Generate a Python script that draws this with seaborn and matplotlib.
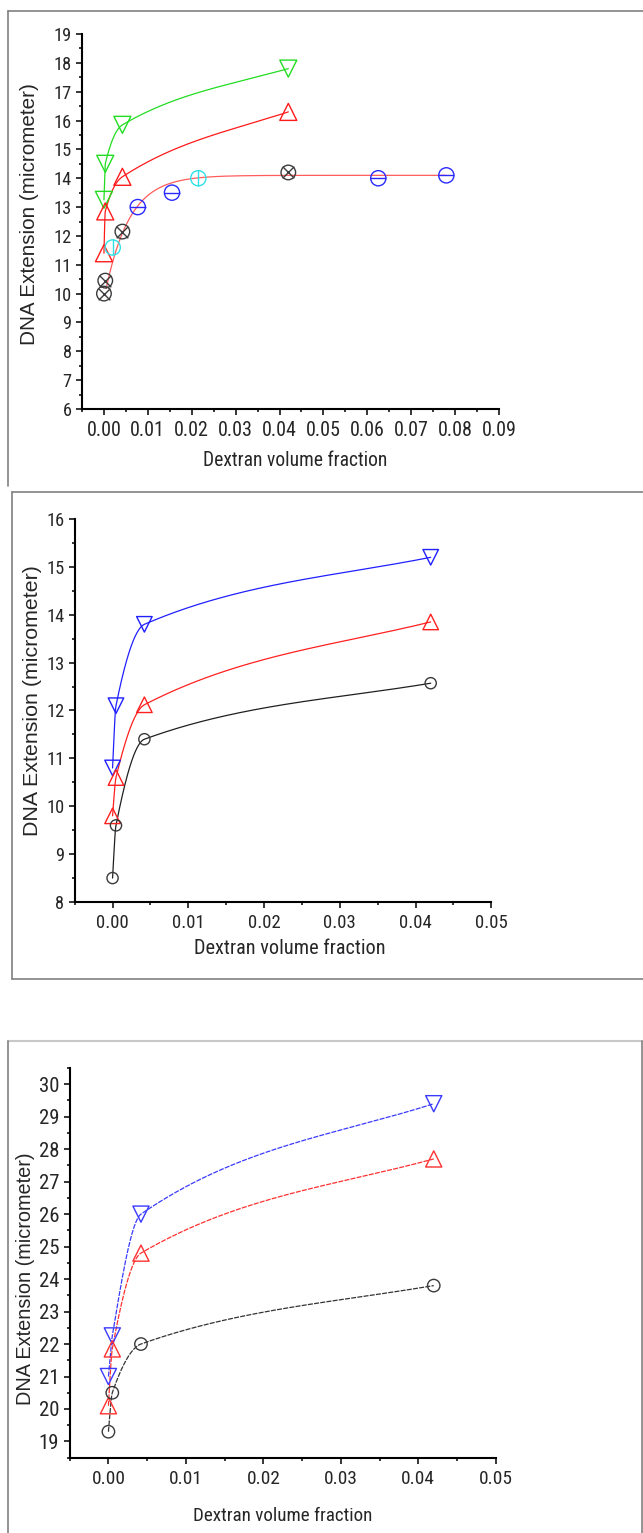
import numpy as np
import matplotlib
matplotlib.use("Agg")
import matplotlib.pyplot as plt
from matplotlib import font_manager as fm
from matplotlib.lines import Line2D
from matplotlib.ticker import MultipleLocator, FormatStrFormatter
import seaborn as sns

# ---- data ----
X4 = [0.0, 0.0003, 0.0042, 0.042]

# panel 1
p1_green_y = [13.25, 14.5, 15.85, 17.8]
p1_red_y = [11.4, 12.85, 14.05, 16.3]
p1_cross_x = [0.0, 0.0003, 0.0042, 0.042]
p1_cross_y = [10.0, 10.45, 12.15, 14.2]
p1_cyan_x = [0.002, 0.0215]
p1_cyan_y = [11.6, 14.0]
p1_blue_x = [0.0077, 0.0155, 0.0625, 0.078]
p1_blue_y = [13.0, 13.5, 14.0, 14.1]
# saturating fit drawn through the circle markers
fit_plateau, fit_amp, fit_tau = 14.1, 4.3, 0.0055
fit_xmin, fit_xmax = 0.0005, 0.078

# panel 2
X4b = [0.0, 0.00045, 0.0042, 0.042]
p2_blue_y = [10.8, 12.1, 13.8, 15.2]
p2_red_y = [9.8, 10.6, 12.12, 13.85]
p2_black_y = [8.5, 9.6, 11.4, 12.57]

# panel 3
X4c = [0.0, 0.0005, 0.0042, 0.042]
p3_blue_y = [21.0, 22.25, 26.0, 29.4]
p3_red_y = [20.1, 21.85, 24.8, 27.7]
p3_black_y = [19.3, 20.5, 22.0, 23.8]

XLABEL = "Dextran volume fraction"
YLABEL = "DNA Extension (micrometer)"

W, H = 643, 1533
FONT = ["Liberation Sans", "DejaVu Sans"]

sns.set_style("ticks")
plt.rcParams["font.family"] = FONT

# the original uses a squeezed Arial; take a narrow face if one is installed
_names = {(f.name, f.stretch) for f in fm.fontManager.ttflist}
NARROW = {"family": FONT, "fontstretch": "normal"}
for fam in ["Liberation Sans Narrow", "Arial Narrow", "Roboto Condensed",
            "Open Sans Condensed"]:
    if any(n == fam for n, _ in _names):
        NARROW = {"family": [fam] + FONT, "fontstretch": "normal"}
        break
else:
    for fam in ["Liberation Sans", "Noto Sans", "DejaVu Sans", "Open Sans", "Roboto"]:
        if any(n == fam and s in ("condensed", "semi-condensed", 75, 87) for n, s in _names):
            NARROW = {"family": [fam], "fontstretch": "condensed"}
            break


def spline(x, y, n=300):
    # monotone cubic hermite through the markers (Origin-style spline connect)
    x = np.asarray(x, float)
    y = np.asarray(y, float)
    h = np.diff(x)
    d = np.diff(y) / h
    m = np.zeros_like(y)
    for k in range(1, len(x) - 1):
        if d[k - 1] * d[k] > 0:
            m[k] = 2.0 / (1.0 / d[k - 1] + 1.0 / d[k])
    m[0] = ((2 * h[0] + h[1]) * d[0] - h[0] * d[1]) / (h[0] + h[1])
    if np.sign(m[0]) != np.sign(d[0]):
        m[0] = 0
    m[-1] = 0.85 * d[-1]
    xs, ys = [], []
    for k in range(len(h)):
        t = np.linspace(0, 1, n)
        h00 = 2 * t**3 - 3 * t**2 + 1
        h10 = t**3 - 2 * t**2 + t
        h01 = -2 * t**3 + 3 * t**2
        h11 = t**3 - t**2
        xs.append(x[k] + t * h[k])
        ys.append(h00 * y[k] + h10 * h[k] * m[k] + h01 * y[k + 1] + h11 * h[k] * m[k + 1])
    return np.concatenate(xs), np.concatenate(ys)


fig = plt.figure(figsize=(W / 100, H / 100), dpi=100)
fig.patch.set_facecolor("white")
renderer = fig.canvas.get_renderer()


def fit_size(text, target_px, props, base=12.0):
    # font size that gives the text the width measured on the reference
    t = fig.text(0, 0, text, fontsize=base, **props)
    w = t.get_window_extent(renderer=renderer).width
    t.remove()
    return base * target_px / w


def add_axes(l, t, r, b):
    return fig.add_axes([l / W, 1 - b / H, (r - l) / W, (b - t) / H])


def curve(ax, x, y, color, lw=0.9, dashes=None):
    xs, ys = spline(x, y)
    sns.lineplot(x=xs, y=ys, ax=ax, color=color, lw=lw, sort=False,
                 estimator=None, legend=False)
    if dashes is not None:
        ax.lines[-1].set_dashes(dashes)


def pts(ax, x, y, color, marker, s, lw=1.0):
    sns.scatterplot(x=x, y=y, ax=ax, marker=marker, s=s, facecolors="none",
                    edgecolor=color, linewidth=lw, legend=False, zorder=5)


def overlay(ax, x, y, color, marker, s, lw=1.0):
    sns.scatterplot(x=x, y=y, ax=ax, marker=marker, s=s, color=color,
                    linewidth=lw, legend=False, zorder=6)


def style(ax, box, xlim, ylim, widths, ylab_px, xlab_c, ylab_c, ytxt):
    l, t, r, b = box
    xw, yw, lw_ = widths
    xfs = fit_size("0.00", xw, NARROW) * 1.08
    yfs = fit_size(ytxt, yw, NARROW) * 1.08
    labfs = fit_size(XLABEL, lw_, NARROW) * 1.04
    ylabfs = fit_size(YLABEL, ylab_px, {"family": FONT})
    ax.set_xlim(*xlim)
    ax.set_ylim(*ylim)
    ax.xaxis.set_major_locator(MultipleLocator(0.01))
    ax.xaxis.set_minor_locator(MultipleLocator(0.005))
    ax.yaxis.set_major_locator(MultipleLocator(1))
    ax.yaxis.set_minor_locator(MultipleLocator(0.5))
    ax.xaxis.set_major_formatter(FormatStrFormatter("%.2f"))
    sns.despine(ax=ax)
    for sp in ("left", "bottom"):
        ax.spines[sp].set_linewidth(1.5)
        ax.spines[sp].set_color("black")
    ax.tick_params(which="major", direction="out", length=4.5, width=1.1,
                   color="black")
    ax.tick_params(which="minor", direction="out", length=2.5, width=1.1,
                   color="black")
    ax.tick_params(axis="x", pad=4)
    ax.tick_params(axis="y", pad=3)
    for lab in ax.get_xticklabels():
        lab.set_fontsize(xfs)
        lab.set_family(NARROW["family"])
        lab.set_fontstretch(NARROW["fontstretch"])
    for lab in ax.get_yticklabels():
        lab.set_fontsize(yfs)
        lab.set_family(NARROW["family"])
        lab.set_fontstretch(NARROW["fontstretch"])
    ax.set_xlabel(XLABEL, fontsize=labfs, va="center", **NARROW)
    ax.set_ylabel(YLABEL, fontsize=ylabfs)
    ax.xaxis.set_label_coords((xlab_c[0] - l) / (r - l), (b - xlab_c[1]) / (b - t))
    ax.yaxis.set_label_coords((ylab_c[0] - l) / (r - l), (b - ylab_c[1]) / (b - t))
    ax.patch.set_alpha(0)


# ---------- panel 1 ----------
box = (82, 34, 499, 409)
ax1 = add_axes(*box)
green, red, blue, cyan, grey = "#22dd22", "#ff1a1a", "#2a2aff", "#30e0e8", "#3c3c3c"
curve(ax1, X4, p1_green_y, green)
curve(ax1, X4, p1_red_y, red)
fx = np.linspace(fit_xmin, fit_xmax, 400)
fy = fit_plateau - fit_amp * np.exp(-fx / fit_tau)
sns.lineplot(x=fx, y=fy, ax=ax1, color="#ff5c5c", lw=0.9, legend=False)
pts(ax1, X4, p1_green_y, green, "v", 150)
pts(ax1, X4, p1_red_y, red, "^", 150)
pts(ax1, p1_cross_x, p1_cross_y, grey, "o", 110)
overlay(ax1, p1_cross_x, p1_cross_y, grey, "x", 70)
pts(ax1, p1_cyan_x, p1_cyan_y, cyan, "o", 120)
overlay(ax1, p1_cyan_x, p1_cyan_y, cyan, "|", 120)
pts(ax1, p1_blue_x, p1_blue_y, blue, "o", 120)
overlay(ax1, p1_blue_x, p1_blue_y, blue, "_", 120)
style(ax1, box, (-0.005, 0.09), (6, 19), (32, 16.7, 177), 262,
      (295.5, 461), (39, 214), "19")

# ---------- panel 2 ----------
box = (74.7, 519, 491.3, 902)
ax2 = add_axes(*box)
blue2, red2, black2 = "#2020ff", "#ff2020", "#202020"
curve(ax2, X4b, p2_blue_y, blue2)
curve(ax2, X4b, p2_red_y, red2)
curve(ax2, X4b, p2_black_y, black2)
pts(ax2, X4b, p2_blue_y, blue2, "v", 125)
pts(ax2, X4b, p2_red_y, red2, "^", 125)
pts(ax2, X4b, p2_black_y, "#3a3a3a", "o", 65)
style(ax2, box, (-0.005, 0.05), (8, 16), (30, 16.7, 184), 272,
      (290, 949), (42, 701), "16")

# ---------- panel 3 ----------
box = (69.7, 1068, 495.7, 1457.7)
ax3 = add_axes(*box)
blue3, red3, black3 = "#3a3aff", "#ff3030", "#333333"
curve(ax3, X4c, p3_blue_y, blue3, dashes=(4, 1))
curve(ax3, X4c, p3_red_y, red3, dashes=(4, 1))
curve(ax3, X4c, p3_black_y, black3, dashes=(4, 1))
pts(ax3, X4c, p3_blue_y, blue3, "v", 135)
pts(ax3, X4c, p3_red_y, red3, "^", 135)
pts(ax3, X4c, p3_black_y, "#3a3a3a", "o", 80)
style(ax3, box, (-0.005, 0.05), (18.5, 30.5), (31, 18.7, 172), 253,
      (283, 1516), (35, 1278.5), "30")


# ---------- surrounding frames ----------
def fline(x0, y0, x1, y1, color="#808080", lw=1.2):
    fig.add_artist(Line2D([x0 / W, x1 / W], [1 - y0 / H, 1 - y1 / H],
                          transform=fig.transFigure, color=color, lw=lw))


fline(8, 11, 643, 11)
fline(8, 11, 8, 486)
fline(12, 492, 643, 492)
fline(12, 492, 12, 979)
fline(12, 979, 643, 979)
fline(8, 1041, 642, 1041, color="#c8c8c8", lw=1.5)
fline(8, 1041, 8, 1533)
fline(642, 1041, 642, 1533)

fig.savefig("out.png", dpi=100, facecolor="white")
